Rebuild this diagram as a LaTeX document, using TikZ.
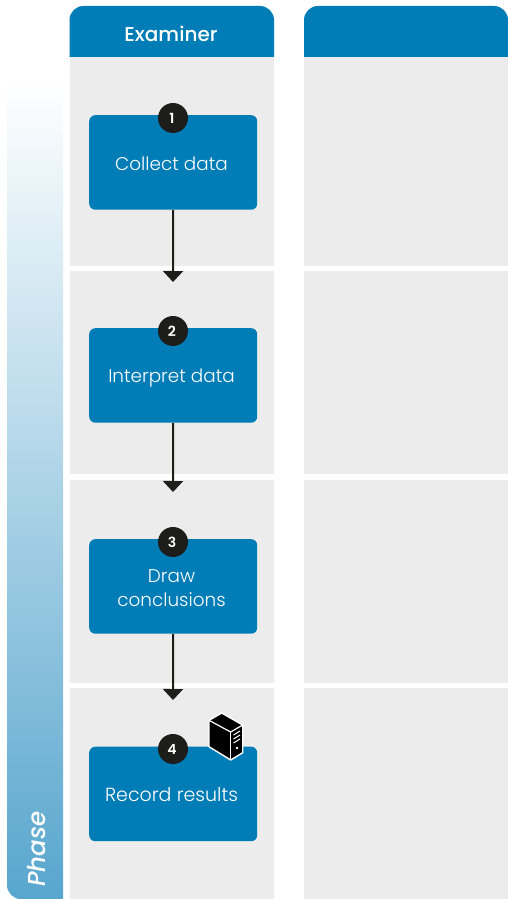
\documentclass[tikz,border=0pt]{standalone}
\usepackage{fontspec}
\setmainfont{Poppins Light}[ItalicFont={Poppins Medium Italic}]
\newfontfamily\medfont{Poppins Medium}
\newfontfamily\boldfont{Poppins SemiBold}
\usetikzlibrary{arrows.meta}
\definecolor{blueA}{HTML}{007DB6}
\definecolor{laneG}{HTML}{ECECEC}
\definecolor{darkC}{HTML}{1D1D1B}
\definecolor{phaseB}{HTML}{58A6CE}
\tikzset{
  x=1pt,y=-1pt,
  lane/.style={fill=laneG,draw=none},
  stepbox/.style={fill=blueA,draw=none,rounded corners=6pt,minimum width=168pt,minimum height=94.5pt,inner sep=0pt,anchor=north west},
  boxtext/.style={text=white,align=center,font=\fontsize{18.4}{24}\selectfont,inner sep=0pt},
  recordtext/.style={boxtext,font=\fontsize{19}{24}\selectfont},
  badge/.style={circle,fill=darkC,draw=none,minimum size=30pt,inner sep=0pt,text=white,font=\fontsize{14}{14}\boldfont},
  flow/.style={draw=darkC,line width=2pt,-{Triangle[length=11pt,width=20pt,fill=darkC]}},
}
\begin{document}
\begin{tikzpicture}
\useasboundingbox (0,0) rectangle (508,899);
% phase bar
\path[top color=white,bottom color=phaseB,draw=none]
  (63,899) -- (63,80) -- (7,80) [rounded corners=14pt] -- (7,899) [sharp corners] -- cycle;
\node[rotate=90,text=white,font=\fontsize{24.5}{24}\selectfont\itshape,inner sep=0pt] (phase) at (37,849) {Phase};
% lanes
\foreach \xa/\xb in {69.5/274,304/508}{
  \fill[lane] (\xa,57) rectangle (\xb,266);
  \fill[lane] (\xa,271) rectangle (\xb,474);
  \fill[lane] (\xa,480) rectangle (\xb,683);
  \fill[lane] (\xa,688) rectangle (\xb,899);
  \fill[blueA] (\xa,57) [rounded corners=14pt] -- (\xa,6) -- (\xb,6) [sharp corners] -- (\xb,57) -- cycle;
}
\node[text=white,font=\fontsize{20}{22}\medfont,inner sep=0pt] (head) at (171,34) {Examiner};
% boxes
\node[stepbox] (s1) at (89,115) {};
\node[stepbox] (s2) at (89,328) {};
\node[stepbox] (s3) at (89,539) {};
\node[stepbox] (s4) at (89,746.5) {};
\node[boxtext] (t1) at (171.5,164) {Collect data};
\node[boxtext] (t2) at (171.5,378) {Interpret data};
\node[boxtext] (t3) at (171.5,588) {Draw\\conclusions};
\node[recordtext] (t4) at (171.5,795) {Record results};
% connectors
\coordinate (e1) at (173,282);
\coordinate (e2) at (173,492);
\coordinate (e3) at (173,700);
\draw[flow] (s1.south) -- (e1);
\draw[flow] (s2.south) -- (e2);
\draw[flow] (s3.south) -- (e3);
% badges
\node[badge] (b1) at (173,118) {\kern-2pt 1};
\node[badge] (b2) at (173,331) {\kern-2pt 2};
\node[badge] (b3) at (173,542) {\kern-2pt 3};
\node[badge] (b4) at (173,749) {\kern-2pt 4};
% server icon
\begin{scope}[line join=round]
\draw[white,line width=1.4pt,fill=black] (221.7,713) -- (209,720.3) -- (209,746.7) -- (230.7,760) -- (242.7,752.7) -- (242.7,725) -- cycle;
\draw[white,line width=1.2pt] (209,720.3) -- (230.7,732) -- (242.7,725);
\draw[white,line width=1.2pt] (230.7,732) -- (230.7,760);
\draw[white,line width=1pt] (233.5,735) -- (240,731);
\draw[white,line width=1pt] (233.5,739) -- (240,735);
\draw[white,line width=1pt] (233.5,743) -- (240,739);
\fill[white] (237,748) circle[radius=1.4pt];
\end{scope}
\end{tikzpicture}
\end{document}
